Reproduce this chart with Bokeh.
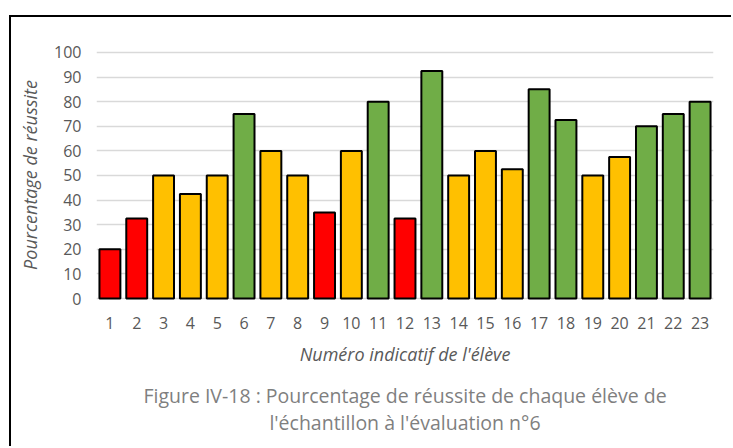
from bokeh.plotting import figure
from bokeh.models import ColumnDataSource, Title, FixedTicker, Range1d
from bokeh.embed import file_html
from bokeh.resources import INLINE

students = [str(i) for i in range(1, 24)]
scores = [20, 32.5, 50, 42.5, 50, 75, 60, 50, 35, 60, 80, 32.5, 92.5, 50, 60, 52.5, 85, 72.5, 50, 57.5, 70, 75, 80]
RED, YEL, GRN = "#FF0000", "#FFC000", "#70AD47"
colors = [RED, RED, YEL, YEL, YEL, GRN, YEL, YEL, RED, YEL, GRN, RED, GRN, YEL, YEL, YEL, GRN, GRN, YEL, YEL, GRN, GRN, GRN]
y_ticks = list(range(0, 101, 10))
y_label = "Pourcentage de réussite"
x_label = "Numéro indicatif de l'élève"
caption_lines = ["Figure IV-18 : Pourcentage de réussite de chaque élève de",
                 "l'échantillon à l'évaluation n°6"]

src = ColumnDataSource(dict(x=students, y=scores, c=colors))

FONT = "Open Sans"
p = figure(width=722, height=431, x_range=students, y_range=Range1d(-0.8, 101.2),
           output_backend="svg", toolbar_location=None,
           min_border_left=85, min_border_right=20, min_border_top=32, min_border_bottom=148)
p.margin = (15, 0, 0, 9)
p.styles = {"border-left": "2px solid black", "border-top": "2px solid black"}

p.vbar(x="x", top="y", bottom=0, width=0.78, fill_color="c", line_color="black", line_width=2, source=src)

p.outline_line_color = None
p.xgrid.grid_line_color = None
p.ygrid.grid_line_color = "#D9D9D9"
p.ygrid.grid_line_width = 1.5
p.yaxis.ticker = FixedTicker(ticks=y_ticks)

for ax in (p.xaxis[0], p.yaxis[0]):
    ax.axis_line_color = None
    ax.major_tick_line_color = None
    ax.minor_tick_line_color = None
    ax.major_tick_out = 0
    ax.major_label_text_font = FONT
    ax.major_label_text_font_size = "16px"
    ax.major_label_text_color = "#595959"
    ax.axis_label_text_font = FONT
    ax.axis_label_text_font_size = "18px"
    ax.axis_label_text_font_style = "italic"
    ax.axis_label_text_color = "#595959"

p.xaxis.major_label_standoff = 16
p.xaxis.axis_label = x_label
p.xaxis.axis_label_standoff = 10
p.yaxis.major_label_standoff = 15
p.yaxis.axis_label = y_label
p.yaxis.axis_label_standoff = 9

cap = Title(text="\n".join(caption_lines), align="center", text_align="center",
            text_font=FONT, text_font_size="19.5px", text_line_height=1.0,
            text_font_style="normal", text_color="#7F7F7F", standoff=22)
p.add_layout(cap, "below")

open("out.html", "w").write(file_html(p, INLINE))
